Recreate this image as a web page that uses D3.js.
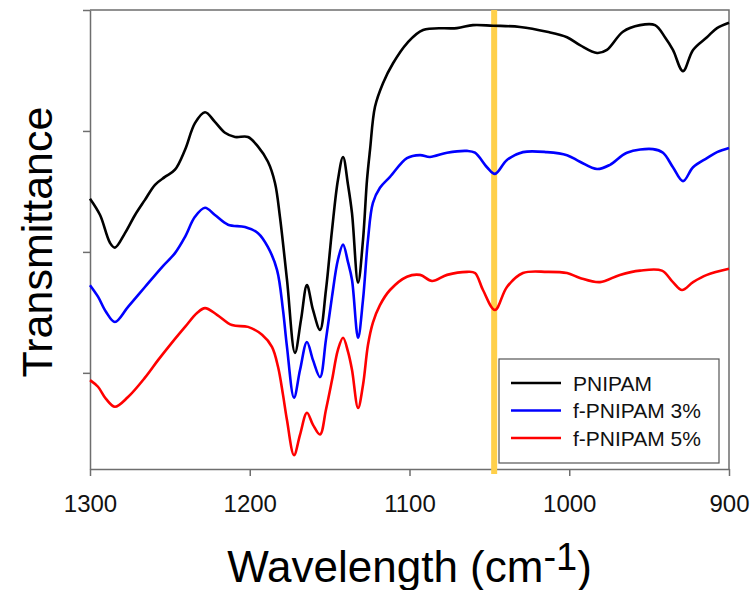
<!DOCTYPE html>
<html>
<head>
<meta charset="utf-8">
<script src="https://cdn.jsdelivr.net/npm/d3@7"></script>
<style>
  body { margin: 0; background: #fff; }
  svg { display: block; font-family: "Liberation Sans", Arial, sans-serif; }
</style>
</head>
<body>
<div id="chart"></div>
<script>
(function(){

const width = 751;
const height = 590;
const margin = {top:10, right:22, bottom:121, left:90};

// [wavenumber (cm-1), transmittance (a.u.)]
const pnipam = [
  [1300,68.8],[1293.7,66.1],[1287.5,61.5],[1284.4,60.7],[1278.1,63.1],[1271.8,66.1],
  [1265.6,68.6],[1259.3,71.1],[1253.1,72.4],[1246.8,73.6],[1240.5,76.9],[1234.3,81.3],
  [1228.0,83.1],[1221.8,81.5],[1215.5,79.7],[1209.2,79.0],[1201.1,79.0],[1194.8,77.4],
  [1188.6,74.9],[1184.2,71.4],[1181.1,65.8],[1176.7,55.4],[1171.7,43.3],[1167.9,48.8],
  [1164.2,54.5],[1160.4,50.4],[1156.0,47.1],[1152.3,53.7],[1148.5,63.6],[1144.8,71.9],
  [1141.6,75.7],[1138.5,71.1],[1136.0,66.4],[1132.2,54.9],[1129.1,62.0],[1126.6,71.9],
  [1124.7,76.9],[1121.6,84.0],[1116.6,87.9],[1110.3,91.2],[1101.6,94.5],[1091.5,96.7],
  [1070.3,97.0],[1060.3,97.5],[1047.7,97.4],[1030.8,97.2],[1013.9,96.4],[1001.4,95.5],
  [993.3,94.2],[982.6,92.9],[976.4,93.4],[966.4,96.4],[955.7,97.5],[946.3,97.5],
  [940.1,95.5],[935.1,93.4],[928.8,89.9],[922.5,93.4],[913.8,95.5],[907.5,97.0],[900,97.9]
];

const fPnipam3 = [
  [1300,54.5],[1295.0,52.6],[1290.0,50.1],[1284.4,48.4],[1276.2,50.9],[1265.6,54.2],
  [1254.9,57.5],[1246.8,59.8],[1240.5,62.5],[1234.3,65.8],[1228.0,67.3],[1221.8,66.1],
  [1213.6,64.5],[1203.0,64.1],[1194.8,63.1],[1188.6,60.8],[1182.9,57.0],[1179.2,50.4],
  [1176.7,44.3],[1172.3,35.9],[1168.5,40.5],[1164.2,45.1],[1160.4,42.1],[1156.0,39.3],
  [1152.3,45.5],[1148.5,52.6],[1144.8,58.7],[1141.6,61.2],[1138.5,58.3],[1136.0,55.4],
  [1132.2,45.8],[1129.1,52.1],[1126.0,62.0],[1122.9,68.1],[1118.5,70.6],[1112.2,72.4],
  [1101.6,75.5],[1093.4,76.0],[1087.2,75.7],[1076.5,76.4],[1064.0,76.7],[1059.0,76.4],
  [1051.5,74.0],[1046.5,72.9],[1039.0,75.2],[1029.0,76.5],[1013.9,76.5],[1001.4,76.0],
  [993.3,74.9],[982.6,73.7],[974.5,74.4],[963.9,76.4],[947.6,77.0],[941.3,76.4],
  [935.1,74.0],[928.8,71.7],[922.5,74.0],[913.8,75.5],[907.5,76.5],[900,77.2]
];

const fPnipam5 = [
  [1300,38.8],[1295.0,37.7],[1290.0,35.7],[1284.4,34.4],[1276.2,36.0],[1265.6,39.2],
  [1257.4,42.1],[1248.7,45.0],[1240.5,47.6],[1233.0,49.9],[1228.0,50.7],[1220.5,49.6],
  [1211.1,47.9],[1201.1,47.6],[1192.3,46.3],[1186.1,44.3],[1182.3,41.0],[1179.2,36.4],
  [1176.7,32.2],[1172.3,26.4],[1168.5,29.8],[1164.2,33.4],[1160.4,31.4],[1156.0,29.8],
  [1152.3,33.9],[1148.5,38.8],[1144.8,43.8],[1141.6,45.8],[1138.5,43.5],[1136.0,40.5],
  [1132.2,34.2],[1129.1,38.0],[1126.0,44.6],[1122.9,48.3],[1118.5,51.2],[1112.2,53.7],
  [1101.6,55.9],[1093.4,56.2],[1085.9,55.2],[1076.5,56.2],[1064.0,56.7],[1059.0,56.5],
  [1054.0,53.7],[1046.5,50.4],[1039.0,54.2],[1029.0,56.5],[1013.9,56.7],[1001.4,56.5],
  [993.3,55.7],[980.8,55.0],[968.3,56.2],[955.7,56.9],[942.0,56.9],[935.1,55.0],
  [929.4,53.7],[922.5,55.0],[913.8,56.2],[900,57.2]
];

const seriesNames = ["PNIPAM", "f-PNIPAM 3%", "f-PNIPAM 5%"];
const seriesColors = ["#000000", "#0000ff", "#ff0000"];
const xTicks = [1300, 1200, 1100, 1000, 900];
const yTicks = [40, 60, 80, 100];
const markerWavenumber = 1047;

const svg = d3.select("#chart")
  .append("svg")
  .attr("width", width)
  .attr("height", height);

const x = d3.scaleLinear()
  .domain([1300, 900])
  .range([margin.left, width - margin.right]);

const y = d3.scaleLinear()
  .domain([24.1, 100])
  .range([height - margin.bottom, margin.top]);

const axisColor = "#6e6e6e";

// frame (top + right)
svg.append("path")
  .attr("d", `M${margin.left},${margin.top}H${width - margin.right}V${height - margin.bottom}`)
  .attr("fill", "none")
  .attr("stroke", axisColor)
  .attr("stroke-width", 1.5);

// X axis
const xAxis = svg.append("g")
  .attr("transform", `translate(0,${height - margin.bottom})`)
  .call(d3.axisBottom(x)
    .tickValues(xTicks)
    .tickFormat(d3.format("d"))
    .tickSize(7)
    .tickSizeOuter(0)
    .tickPadding(19));
xAxis.selectAll("path, line").attr("stroke", axisColor).attr("stroke-width", 1.5);
xAxis.selectAll("text")
  .attr("fill", "#111")
  .style("font-size", "24px")
  .style("font-family", "'Liberation Sans', Arial, sans-serif");

// Y axis
const yAxis = svg.append("g")
  .attr("transform", `translate(${margin.left},0)`)
  .call(d3.axisLeft(y).tickValues(yTicks).tickSize(7).tickSizeOuter(0).tickFormat(""));
yAxis.selectAll("path, line").attr("stroke", axisColor).attr("stroke-width", 1.5);

// marker line
svg.append("line")
  .attr("x1", x(markerWavenumber))
  .attr("x2", x(markerWavenumber))
  .attr("y1", margin.top)
  .attr("y2", height - margin.bottom + 5)
  .attr("stroke", "#ffd04a")
  .attr("stroke-width", 6);

// spectra
const line = d3.line()
  .x(d => x(d[0]))
  .y(d => y(d[1]))
  .curve(d3.curveCatmullRom.alpha(0.5));

[pnipam, fPnipam3, fPnipam5].forEach((data, i) => {
  svg.append("path")
    .datum(data)
    .attr("fill", "none")
    .attr("stroke", seriesColors[i])
    .attr("stroke-width", 2.6)
    .attr("stroke-linejoin", "round")
    .attr("d", line);
});

// axis titles
const xTitle = svg.append("text")
  .attr("x", (margin.left + width - margin.right) / 2)
  .attr("y", 582)
  .attr("text-anchor", "middle")
  .style("font-size", "44px")
  .attr("fill", "#000");
xTitle.append("tspan").text("Wavelength (cm");
xTitle.append("tspan").attr("dy", -12).style("font-size", "38px").text("-1");
xTitle.append("tspan").attr("dy", 12).text(")");

svg.append("text")
  .attr("transform", "rotate(-90)")
  .attr("x", -242)
  .attr("y", 52)
  .attr("text-anchor", "middle")
  .style("font-size", "43px")
  .attr("fill", "#000")
  .text("Transmittance");

// legend
const legend = svg.append("g")
  .attr("transform", "translate(499,359)");

legend.append("rect")
  .attr("width", 220)
  .attr("height", 104)
  .attr("fill", "#fff")
  .attr("stroke", "#555")
  .attr("stroke-width", 1.2);

seriesNames.forEach((name, i) => {
  const row = legend.append("g").attr("transform", `translate(0,${24 + i * 27.5})`);
  row.append("line")
    .attr("x1", 12)
    .attr("x2", 62)
    .attr("stroke", seriesColors[i])
    .attr("stroke-width", 2.6);
  row.append("text")
    .attr("x", 74)
    .attr("y", 7.5)
    .style("font-size", "21px")
    .attr("fill", "#111")
    .text(name);
});

})();
</script>
</body>
</html>
